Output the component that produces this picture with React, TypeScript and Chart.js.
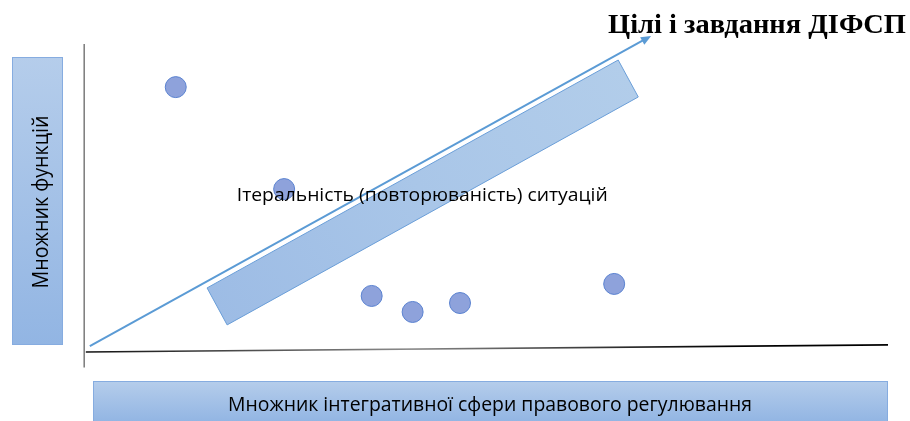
import React, { useEffect, useRef } from "react";
import { Chart, registerables } from "chart.js";

Chart.register(...registerables);

const TITLE = "Цілі і завдання ДІФСП";
const X_LABEL = "Множник інтегративної сфери правового регулювання";
const Y_LABEL = "Множник функцій";
const BAND_LABEL = "Ітеральність (повторюваність) ситуацій";

// scattered situations (abstract units 0..100)
const pointX = [11.3, 24.8, 35.7, 40.8, 46.7, 65.9];
const pointY = [86.0, 52.9, 18.2, 13.0, 15.9, 22.1];

// trend arrow
const arrowX = [0.6, 70.5];
const arrowY = [1.9, 102.6];

// tilted band (four corners)
const bandX = [15.2, 17.7, 68.9, 66.4];
const bandY = [20.8, 8.8, 82.8, 94.8];

// hand-drawn axes
const xAxisLineX = [0.1, 100];
const xAxisLineY = [0, 2.3];
const yAxisLineX = [-0.1, -0.1];
const yAxisLineY = [100, -5];

// band label anchor (centre x, baseline y)
const bandLabelX = 42.0;
const bandLabelY = 49.0;

function fitText(
  ctx: CanvasRenderingContext2D,
  text: string,
  cx: number,
  baseline: number,
  font: string,
  width: number,
  color: string
) {
  ctx.save();
  ctx.font = font;
  ctx.fillStyle = color;
  ctx.textAlign = "center";
  ctx.textBaseline = "alphabetic";
  const w = ctx.measureText(text).width;
  const s = width / w;
  ctx.translate(cx, baseline);
  ctx.scale(s, 1);
  ctx.fillText(text, 0, 0);
  ctx.restore();
}

function gradBox(
  ctx: CanvasRenderingContext2D,
  x: number,
  y: number,
  w: number,
  h: number,
  vertical: boolean
) {
  const g = vertical
    ? ctx.createLinearGradient(0, y, 0, y + h)
    : ctx.createLinearGradient(0, y, 0, y + h);
  g.addColorStop(0, "#b5cdeb");
  g.addColorStop(1, "#92b5e3");
  ctx.fillStyle = g;
  ctx.fillRect(x, y, w, h);
  ctx.strokeStyle = "#86ace0";
  ctx.lineWidth = 1;
  ctx.strokeRect(x + 0.5, y + 0.5, w - 1, h - 1);
}

const diagramPlugin = {
  id: "diagram",
  beforeDatasetsDraw(chart: any) {
    const ctx: CanvasRenderingContext2D = chart.ctx;
    const xs = chart.scales.x;
    const ys = chart.scales.y;
    const px = (v: number) => xs.getPixelForValue(v);
    const py = (v: number) => ys.getPixelForValue(v);
    ctx.save();
    // vertical axis
    ctx.strokeStyle = "#7a7a7a";
    ctx.lineWidth = 1.5;
    ctx.beginPath();
    ctx.moveTo(px(yAxisLineX[0]), py(yAxisLineY[0]));
    ctx.lineTo(px(yAxisLineX[1]), py(yAxisLineY[1]));
    ctx.stroke();
    // horizontal axis
    const x0 = px(xAxisLineX[0]);
    const x1 = px(xAxisLineX[1]);
    const g = ctx.createLinearGradient(x0, 0, x1, 0);
    g.addColorStop(0, "#111");
    g.addColorStop(0.4, "#8a8a8a");
    g.addColorStop(0.8, "#000");
    g.addColorStop(1, "#000");
    ctx.strokeStyle = g;
    ctx.lineWidth = 1.6;
    ctx.beginPath();
    ctx.moveTo(x0, py(xAxisLineY[0]));
    ctx.lineTo(x1, py(xAxisLineY[1]));
    ctx.stroke();

    // left label box
    const ca = chart.chartArea;
    gradBox(ctx, ca.left - 73, ca.top + 13, 51, 288, true);
    ctx.save();
    ctx.translate(ca.left - 37, ca.top + 158);
    ctx.rotate(-Math.PI / 2);
    fitText(ctx, Y_LABEL, 0, 0, "21px 'Open Sans'", 173, "#000");
    ctx.restore();

    // bottom label box
    gradBox(ctx, ca.left + 8, ca.bottom + 29, 795, 41, false);
    fitText(ctx, X_LABEL, ca.left + 405, ca.bottom + 59, "20px 'Open Sans'", 524, "#000");

    // title
    fitText(ctx, TITLE, 757, 33, "bold 28px 'Liberation Serif'", 298, "#000");
    ctx.restore();
  },
  afterDatasetsDraw(chart: any) {
    const ctx: CanvasRenderingContext2D = chart.ctx;
    const xs = chart.scales.x;
    const ys = chart.scales.y;
    const px = (v: number) => xs.getPixelForValue(v);
    const py = (v: number) => ys.getPixelForValue(v);
    ctx.save();
    // band
    ctx.beginPath();
    bandX.forEach((bx, i) => {
      const X = px(bx);
      const Y = py(bandY[i]);
      if (i === 0) ctx.moveTo(X, Y);
      else ctx.lineTo(X, Y);
    });
    ctx.closePath();
    const bg = ctx.createLinearGradient(px(bandX[3]), py(bandY[3]), px(bandX[1]), py(bandY[1]));
    bg.addColorStop(0, "#b2cdea");
    bg.addColorStop(0.5, "#a9c6e8");
    bg.addColorStop(1, "#9dbce5");
    ctx.fillStyle = bg;
    ctx.fill();
    ctx.strokeStyle = "#6a9ed8";
    ctx.lineWidth = 1;
    ctx.stroke();

    // arrow
    const ax0 = px(arrowX[0]);
    const ay0 = py(arrowY[0]);
    const ax1 = px(arrowX[1]);
    const ay1 = py(arrowY[1]);
    const ang = Math.atan2(ay1 - ay0, ax1 - ax0);
    const head = 11;
    ctx.strokeStyle = "#5b9bd5";
    ctx.fillStyle = "#5b9bd5";
    ctx.lineWidth = 2;
    ctx.beginPath();
    ctx.moveTo(ax0, ay0);
    ctx.lineTo(ax1 - Math.cos(ang) * head * 0.8, ay1 - Math.sin(ang) * head * 0.8);
    ctx.stroke();
    ctx.beginPath();
    ctx.moveTo(ax1, ay1);
    ctx.lineTo(ax1 - head * Math.cos(ang - 0.4), ay1 - head * Math.sin(ang - 0.4));
    ctx.lineTo(ax1 - head * Math.cos(ang + 0.4), ay1 - head * Math.sin(ang + 0.4));
    ctx.closePath();
    ctx.fill();

    // band label
    fitText(ctx, BAND_LABEL, px(bandLabelX), py(bandLabelY), "19px 'Open Sans'", 371, "#000");
    ctx.restore();
  },
};

export default function App() {
  const ref = useRef<HTMLCanvasElement | null>(null);
  useEffect(() => {
    if (!ref.current) return;
    const chart = new Chart(ref.current, {
      type: "scatter",
      data: {
        datasets: [
          {
            data: pointX.map((x, i) => ({ x, y: pointY[i] })),
            pointRadius: 10.5,
            pointHoverRadius: 10.5,
            pointBackgroundColor: "#8ea2db",
            pointBorderColor: "#5a82d0",
            pointBorderWidth: 1,
            clip: false as any,
          },
        ],
      },
      options: {
        animation: false,
        responsive: true,
        maintainAspectRatio: false,
        layout: { padding: { left: 85, right: 22, top: 44, bottom: 69 } },
        plugins: { legend: { display: false }, tooltip: { enabled: false } },
        events: [],
        scales: {
          x: { type: "linear", min: 0, max: 100, display: false },
          y: { type: "linear", min: 0, max: 100, display: false },
        },
      },
      plugins: [diagramPlugin],
    });
    return () => chart.destroy();
  }, []);
  return (
    <div style={{ position: "absolute", left: 0, top: 0, width: 910, height: 421, background: "#fff" }}>
      <canvas ref={ref} />
    </div>
  );
}
